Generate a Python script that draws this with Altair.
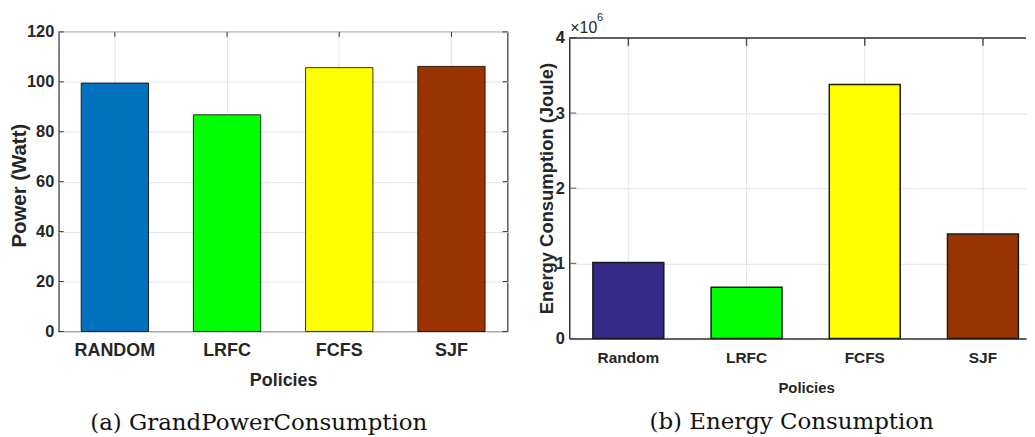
import altair as alt
import pandas as pd

# ---------------- data ----------------
policies_a = ["RANDOM", "LRFC", "FCFS", "SJF"]
power_watt = [99.5, 86.8, 105.7, 106.2]
colors_a = ["#0072BD", "#00FF00", "#FFFF00", "#993300"]
power_ticks = [0, 20, 40, 60, 80, 100, 120]

policies_b = ["Random", "LRFC", "FCFS", "SJF"]
energy_joule = [1.01e6, 0.68e6, 3.38e6, 1.39e6]
colors_b = ["#352A87", "#00FF00", "#FFFF00", "#993300"]
energy_ticks = [0, 1e6, 2e6, 3e6, 4e6]

caption_a = "(a) GrandPowerConsumption"
caption_b = "(b) Energy Consumption"

# ---------------- style ----------------
SANS = "Liberation Sans, Arial, Helvetica, sans-serif"
SERIF = "DejaVu Serif, serif"
AX = "#333333"
LBL = "#262626"
GRID = "#e4e4e4"

W1, H1 = 451, 301
W2, H2 = 459, 308   # right view starts 6px higher; its y range starts at TOP2
TOP2 = 6

# ---------------- left panel ----------------
df_a = pd.DataFrame({"policy": policies_a, "power": power_watt, "color": colors_a})
df_a_ticks = pd.DataFrame({"power": power_ticks})

x_a = alt.X(
    "policy:N", sort=policies_a,
    scale=alt.Scale(paddingInner=0.4, paddingOuter=0.2),
    axis=alt.Axis(
        title="Policies", labelAngle=0, labelFont=SANS, labelFontSize=18,
        labelFontWeight="bold", labelColor=LBL, labelPadding=10,
        titleFont=SANS, titleFontSize=18, titleFontWeight="bold", titleColor=LBL,
        titleX=W1 / 2, titleY=54, titleBaseline="alphabetic",
        domain=False, ticks=False, grid=True, gridColor=GRID, bandPosition=0.5,
    ),
)
y_a = alt.Y(
    "power:Q", scale=alt.Scale(domain=[0, 120], nice=False, zero=True),
    axis=alt.Axis(
        title="Power (Watt)", values=power_ticks, labelFont=SANS, labelFontSize=16.5,
        labelFontWeight="bold", labelColor=LBL, labelPadding=5,
        titleFont=SANS, titleFontSize=20.5, titleFontWeight="bold", titleColor=LBL,
        titleX=-29, titleY=154,
        domain=False, ticks=False, grid=True, gridColor=GRID,
    ),
)

base_a = alt.Chart(df_a).encode(x=x_a)
cat_ticks_a = base_a.mark_rule(color=AX, strokeWidth=1).encode(
    y=alt.value(0), y2=alt.value(5)
)
val_ticks_a = alt.Chart(df_a_ticks).mark_rule(color=AX, strokeWidth=1).encode(
    y=y_a, x=alt.value(W1 - 5), x2=alt.value(W1)
)
val_ticks_a2 = alt.Chart(df_a_ticks).mark_rule(color=AX, strokeWidth=1).encode(
    y=y_a, x=alt.value(0), x2=alt.value(5)
)
bars_a = base_a.mark_bar(stroke="#000000", strokeWidth=0.8).encode(
    y=y_a, color=alt.Color("color:N", scale=None)
)
cap_a = alt.Chart(pd.DataFrame({"caption": [caption_a]})).mark_text(
    font=SERIF, fontSize=23, color="#111111", baseline="alphabetic", align="center"
).encode(text="caption:N", x=alt.value(201), y=alt.value(400))

left = alt.layer(cat_ticks_a, val_ticks_a, val_ticks_a2, bars_a, cap_a).properties(
    width=W1, height=H1
)

# ---------------- right panel ----------------
df_b = pd.DataFrame({"policy": policies_b, "energy": energy_joule, "color": colors_b})
df_b_ticks = pd.DataFrame({"energy": energy_ticks})

x_b = alt.X(
    "policy:N", sort=policies_b,
    scale=alt.Scale(paddingInner=0.4, paddingOuter=0.132, align=0.757),
    axis=alt.Axis(
        title="Policies", labelAngle=0, labelFont=SANS, labelFontSize=15.5,
        labelFontWeight="bold", labelColor=LBL, labelPadding=12.5,
        titleFont=SANS, titleFontSize=15, titleFontWeight="bold", titleColor=LBL,
        titleX=238, titleY=54, titleBaseline="alphabetic",
        domain=True, domainColor=AX, domainWidth=1.5,
        ticks=False, grid=False, bandPosition=0.5,
    ),
)
y_b = alt.Y(
    "energy:Q", scale=alt.Scale(domain=[0, 4e6], nice=False, zero=True, range=[H2, TOP2]),
    axis=alt.Axis(
        title="Energy Consumption (Joule)", values=energy_ticks,
        labelExpr="format(datum.value / 1000000, 'd')",
        labelFont=SANS, labelFontSize=16.5, labelFontWeight="bold", labelColor=LBL,
        labelPadding=5,
        titleFont=SANS, titleFontSize=18.5, titleFontWeight="bold", titleColor=LBL,
        titleX=-12.5, titleY=157,
        domain=True, domainColor=AX, domainWidth=1.5,
        ticks=False, grid=True, gridColor=GRID,
    ),
)

base_b = alt.Chart(df_b).encode(x=x_b)
vgrid_b = base_b.mark_rule(color=GRID, strokeWidth=1).encode(
    y=alt.value(TOP2), y2=alt.value(H2)
)
cat_ticks_b = base_b.mark_rule(color="#555555", strokeWidth=1.5).encode(
    y=alt.value(TOP2), y2=alt.value(TOP2 + 8)
)
val_ticks_b = alt.Chart(df_b_ticks).mark_rule(color="#555555", strokeWidth=1).encode(
    y=y_b, x=alt.value(0), x2=alt.value(7)
)
top_border_b = alt.Chart(pd.DataFrame({"c": [0]})).mark_rule(color=AX, strokeWidth=1.5).encode(
    x=alt.value(0), x2=alt.value(W2), y=alt.value(TOP2)
)
bars_b = base_b.mark_bar(stroke="#1a1a1a", strokeWidth=1.5).encode(
    y=y_b, color=alt.Color("color:N", scale=None)
)
exp_b1 = alt.Chart(pd.DataFrame({"c": [0]})).mark_text(
    text="\u00d710", font=SANS, fontSize=16, color=LBL, align="left", baseline="alphabetic"
).encode(x=alt.value(1), y=alt.value(TOP2 - 5))
exp_b2 = alt.Chart(pd.DataFrame({"c": [0]})).mark_text(
    text="6", font=SANS, fontSize=11, color=LBL, align="left", baseline="alphabetic"
).encode(x=alt.value(28), y=alt.value(TOP2 - 17))
cap_b = alt.Chart(pd.DataFrame({"caption": [caption_b]})).mark_text(
    font=SERIF, fontSize=23, color="#111111", baseline="alphabetic", align="center"
).encode(text="caption:N", x=alt.value(223.5), y=alt.value(399))

right = alt.layer(
    vgrid_b, cat_ticks_b, val_ticks_b, bars_b, top_border_b, exp_b1, exp_b2, cap_b
).properties(width=W2, height=H2, view=alt.ViewBackground(strokeWidth=0))

chart = alt.hconcat(left, right, spacing=28).properties(
    padding={"left": 1, "top": 3, "right": 0, "bottom": 0}
).configure_view(stroke=AX, strokeWidth=1.2)

chart.save("out.html", embed_options={"renderer": "svg", "actions": False})
